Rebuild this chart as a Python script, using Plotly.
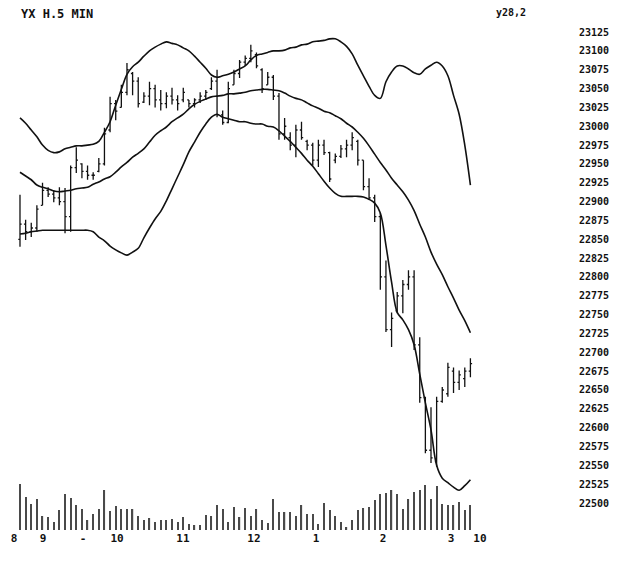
import plotly.graph_objects as go

# ---- data (5-minute bars, index 0..80) ----
highs = [22909, 22876, 22872, 22895, 22925, 22919, 22915, 22919, 22918, 22948,
         22972, 22951, 22948, 22939, 22958, 22998, 23039, 23035, 23055, 23084,
         23072, 23065, 23045, 23059, 23055, 23048, 23045, 23051, 23041, 23051,
         23035, 23037, 23045, 23048, 23065, 23075, 23021, 23059, 23075, 23088,
         23094, 23108, 23098, 23077, 23072, 23068, 23044, 23011, 22992, 23002,
         23006, 22982, 22978, 22982, 22982, 22966, 22964, 22975, 22982, 22992,
         22982, 22955, 22931, 22909, 22885, 22822, 22753, 22780, 22796, 22809,
         22809, 22720, 22641, 22627, 22641, 22654, 22686, 22680, 22676, 22680,
         22692]
lows = [22840, 22849, 22853, 22860, 22895, 22906, 22899, 22895, 22858, 22860,
        22938, 22931, 22929, 22929, 22939, 22948, 22992, 23008, 23025, 23041,
        23041, 23025, 23031, 23028, 23025, 23021, 23024, 23029, 23021, 23032,
        23025, 23025, 23031, 23035, 23048, 23012, 23002, 23004, 23055, 23064,
        23080, 23085, 23077, 23044, 23055, 23035, 22982, 22982, 22968, 22959,
        22982, 22968, 22948, 22946, 22962, 22926, 22951, 22958, 22959, 22968,
        22948, 22915, 22902, 22873, 22783, 22727, 22707, 22752, 22752, 22783,
        22703, 22633, 22566, 22553, 22548, 22633, 22641, 22646, 22650, 22654,
        22667]
opens = [22850, 22870, 22860, 22865, 22895, 22915, 22910, 22905, 22900, 22880,
         22945, 22950, 22940, 22935, 22940, 22950, 22995, 23030, 23025, 23045,
         23070, 23060, 23032, 23040, 23050, 23035, 23030, 23040, 23035, 23035,
         23035, 23030, 23035, 23040, 23050, 23060, 23015, 23005, 23055, 23070,
         23085, 23090, 23095, 23075, 23055, 23065, 23040, 22990, 22985, 22975,
         22995, 22980, 22975, 22955, 22975, 22965, 22955, 22960, 22970, 22975,
         22980, 22955, 22920, 22905, 22880, 22800, 22730, 22755, 22775, 22790,
         22800, 22710, 22640, 22570, 22555, 22635, 22645, 22675, 22660, 22665,
         22675]
closes = [22870, 22860, 22865, 22890, 22915, 22910, 22905, 22900, 22880, 22945,
          22955, 22940, 22935, 22935, 22950, 22990, 23030, 23020, 23045, 23075,
          23060, 23030, 23040, 23050, 23035, 23030, 23040, 23035, 23030, 23045,
          23030, 23035, 23040, 23045, 23060, 23015, 23005, 23050, 23070, 23085,
          23090, 23100, 23080, 23050, 23065, 23040, 22990, 23000, 22975, 22995,
          22985, 22975, 22955, 22975, 22965, 22930, 22960, 22970, 22975, 22985,
          22955, 22920, 22905, 22880, 22800, 22730, 22745, 22775, 22790, 22800,
          22710, 22640, 22570, 22560, 22635, 22650, 22680, 22660, 22670, 22675,
          22685]
upper_band = [23011, 23004, 22995, 22986, 22975, 22968, 22965, 22966, 22970, 22972,
              22974, 22974, 22975, 22976, 22980, 22992, 23006, 23028, 23049, 23069,
              23079, 23085, 23093, 23100, 23105, 23109, 23112, 23110, 23108, 23104,
              23100, 23093, 23085, 23077, 23068, 23065, 23067, 23069, 23072, 23076,
              23080, 23088, 23094, 23096, 23098, 23100, 23100, 23101, 23104, 23105,
              23108, 23109, 23112, 23113, 23114, 23116, 23116, 23112, 23106, 23096,
              23081, 23067, 23053, 23041, 23037, 23059, 23072, 23080, 23080, 23076,
              23071, 23069, 23076, 23081, 23085, 23080, 23067, 23041, 23016, 22975,
              22922]
middle_band = [22939, 22934, 22929, 22922, 22919, 22917, 22914, 22913, 22914, 22915,
               22917, 22918, 22919, 22923, 22926, 22930, 22933, 22939, 22946, 22952,
               22959, 22964, 22970, 22979, 22988, 22994, 22999, 23006, 23011, 23016,
               23023, 23029, 23033, 23036, 23039, 23040, 23041, 23043, 23043, 23044,
               23045, 23047, 23048, 23049, 23049, 23048, 23047, 23044, 23040, 23037,
               23035, 23031, 23027, 23024, 23020, 23018, 23014, 23010, 23004, 22999,
               22992, 22984, 22974, 22963, 22952, 22942, 22931, 22922, 22913, 22902,
               22888, 22870, 22853, 22833, 22817, 22803, 22787, 22772, 22756, 22742,
               22726]
lower_band = [22857, 22858, 22860, 22861, 22862, 22862, 22862, 22862, 22862, 22862,
              22862, 22862, 22862, 22860, 22853, 22848, 22841, 22836, 22832, 22829,
              22833, 22838, 22852, 22865, 22877, 22887, 22901, 22917, 22933, 22949,
              22966, 22979, 22992, 23003, 23012, 23016, 23012, 23010, 23008, 23006,
              23006, 23004, 23003, 23003, 23000, 22999, 22994, 22987, 22980, 22972,
              22964, 22955, 22947, 22937, 22927, 22918, 22911, 22907, 22907, 22907,
              22907, 22906, 22903, 22898, 22885, 22842, 22793, 22753, 22743, 22730,
              22710, 22671, 22633, 22597, 22550, 22533, 22527, 22521, 22517, 22523,
              22531]
volume = [460, 330, 260, 310, 140, 130, 80, 200, 360, 320,
          250, 210, 100, 160, 210, 400, 190, 240, 210, 210,
          210, 140, 100, 120, 80, 100, 100, 110, 80, 130,
          60, 50, 50, 150, 140, 250, 210, 80, 230, 130,
          220, 140, 210, 100, 70, 310, 180, 180, 180, 140,
          250, 160, 160, 60, 270, 200, 140, 80, 30, 100,
          200, 220, 230, 300, 360, 370, 400, 360, 210, 310,
          380, 400, 450, 310, 440, 260, 250, 250, 280, 200,
          250]
price_ticks = [23125 - 25 * k for k in range(26)]
time_tick_pos = [-1.07, 4.09, 11.19, 17.23, 28.95, 41.56, 52.58, 64.48, 76.55, 81.7]
time_tick_text = ["8", "9", "-", "10", "11", "12", "1", "2", "3", "10"]

idx = list(range(len(highs)))
FONT = "DejaVu Sans Mono, monospace"
INK = "#111111"

fig = go.Figure()
fig.add_trace(go.Bar(x=idx, y=volume, yaxis="y2", width=0.22,
                     marker=dict(color="#4a4a4a", line=dict(width=0)),
                     hoverinfo="skip"))
for band in (upper_band, middle_band, lower_band):
    fig.add_trace(go.Scatter(x=idx, y=band, mode="lines",
                             line=dict(color=INK, width=1.6, shape="spline"),
                             hoverinfo="skip"))
fig.add_trace(go.Ohlc(x=idx, open=opens, high=highs, low=lows, close=closes,
                      tickwidth=0.3,
                      increasing=dict(line=dict(color=INK, width=1.3)),
                      decreasing=dict(line=dict(color=INK, width=1.3))))

fig.update_layout(
    width=615, height=555,
    margin=dict(l=0, r=45, t=12, b=33),
    paper_bgcolor="white", plot_bgcolor="white",
    showlegend=False,
    xaxis=dict(range=[-2.13, 99.11], tickvals=time_tick_pos, ticktext=time_tick_text,
               showgrid=False, zeroline=False, showline=False, ticks="",
               rangeslider=dict(visible=False), automargin=False,
               tickfont=dict(family=FONT, size=11, color=INK, weight="bold")),
    yaxis=dict(range=[22464.2, 23141.0], side="right", tickvals=price_ticks,
               ticktext=[str(v) for v in price_ticks],
               showgrid=False, zeroline=False, showline=False, ticks="",
               automargin=False,
               tickfont=dict(family=FONT, size=10, color=INK, weight="bold")),
    yaxis2=dict(range=[0, 5100], overlaying="y", visible=False),
    annotations=[
        dict(text="YX H.5 MIN", xref="paper", yref="paper", x=12 / 570,
             y=(530 - 6) / 510, xanchor="left", yanchor="top", showarrow=False,
             borderpad=0,
             font=dict(family=FONT, size=12, color=INK, weight="bold")),
        dict(text="y28,2", xref="paper", yref="paper", x=487 / 570,
             y=(530 - 6) / 510, xanchor="left", yanchor="top", showarrow=False,
             borderpad=0,
             font=dict(family=FONT, size=10, color=INK, weight="bold")),
    ],
)

fig.write_html("out.html")
